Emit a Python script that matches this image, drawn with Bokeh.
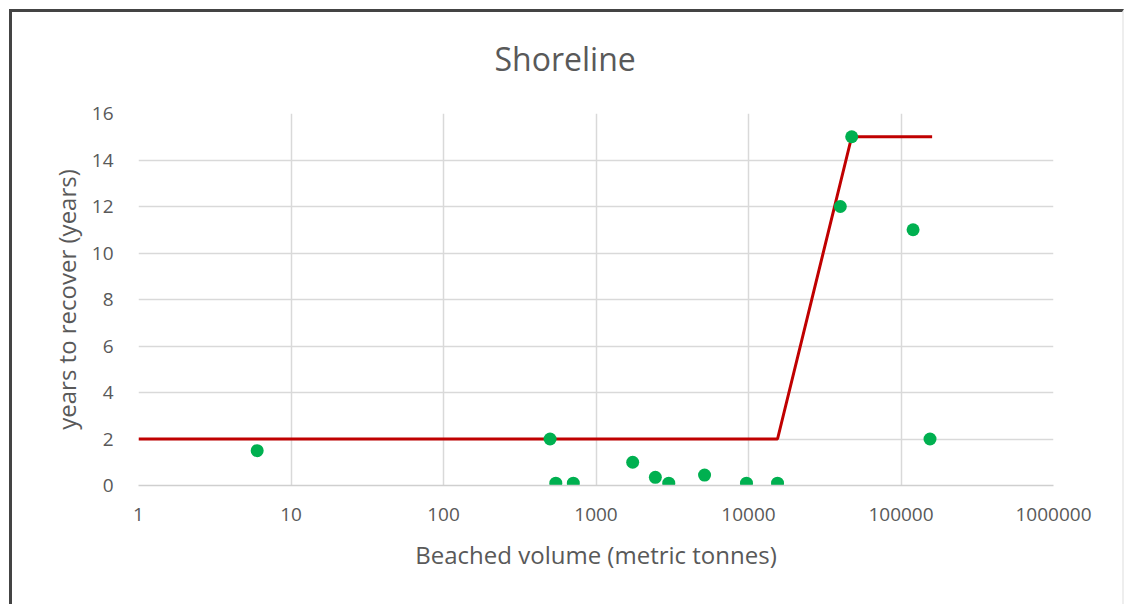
from bokeh.plotting import figure
from bokeh.models import (ColumnDataSource, FixedTicker, SingleIntervalTicker,
                          NumeralTickFormatter, InlineStyleSheet)
from bokeh.embed import file_html
from bokeh.resources import INLINE

# ---- data ----
beached_volume = [6, 500, 545, 710, 1740, 2450, 3000, 5150, 9700, 15500,
                  40000, 47500, 120000, 155000]
years_to_recover = [1.5, 2, 0.1, 0.1, 1, 0.35, 0.1, 0.45, 0.1, 0.1,
                    12, 15, 11, 2]

trend_volume = [1, 15500, 47500, 160000]
trend_years = [2, 2, 15, 15]

x_ticks = [1, 10, 100, 1000, 10000, 100000, 1000000]

title_text = "Shoreline"
x_label = "Beached volume (metric tonnes)"
y_label = "years to recover (years)"

FONT = "Open Sans"
TXT = "#595959"
GRID = "#D9D9D9"

p = figure(width=1128, height=604, x_axis_type="log",
           x_range=(1, 1000000), y_range=(0, 16),
           output_backend="svg", toolbar_location=None,
           min_border_left=138, min_border_right=75,
           min_border_top=113, min_border_bottom=119)
p.outline_line_color = None
p.background_fill_color = "white"
p.border_fill_color = "white"

pts = ColumnDataSource(dict(x=beached_volume, y=years_to_recover))
trend = ColumnDataSource(dict(x=trend_volume, y=trend_years))

p.line("x", "y", source=trend, line_color="#C00000", line_width=3)
p.scatter("x", "y", source=pts, size=13, fill_color="#00B050",
          line_color=None)

# title, placed so that it is centred over the whole chart area
p.title.text = title_text
p.title.align = "left"
p.title.offset = 356
p.title.text_font = FONT
p.title.text_font_size = "32px"
p.title.text_font_style = "normal"
p.title.text_color = TXT
p.title.standoff = 68

# axes
p.xaxis.ticker = FixedTicker(ticks=x_ticks, minor_ticks=[])
p.xaxis.formatter = NumeralTickFormatter(format="0")
p.yaxis.ticker = SingleIntervalTicker(interval=2, num_minor_ticks=0)

for ax in (p.xaxis, p.yaxis):
    ax.major_tick_line_color = None
    ax.minor_tick_line_color = None
    ax.major_label_text_font = FONT
    ax.major_label_text_font_size = "19px"
    ax.major_label_text_color = TXT
    ax.axis_label_text_font = FONT
    ax.axis_label_text_font_size = "24px"
    ax.axis_label_text_color = TXT
    ax.axis_label_text_font_style = "normal"

p.xaxis.axis_label = x_label
p.yaxis.axis_label = y_label
p.xaxis.axis_line_color = "#CFCFCF"
p.xaxis.axis_line_width = 1.5
p.yaxis.axis_line_color = None
p.xaxis.major_label_standoff = 16
p.xaxis.axis_label_standoff = 14
p.yaxis.major_label_standoff = 19
p.yaxis.axis_label_standoff = 6

p.xgrid.grid_line_color = GRID
p.ygrid.grid_line_color = GRID
p.xgrid.grid_line_width = 1.5
p.ygrid.grid_line_width = 1.5
p.xgrid.ticker = FixedTicker(ticks=x_ticks, minor_ticks=[])

# frame of the chart area (dark top and left edges, faint right edge), by CSS
p.stylesheets = [InlineStyleSheet(css="""
:host { position: relative; }
:host::after {
  content: ""; position: absolute; left: 9px; top: 9px; right: 4px; bottom: 0;
  border-left: 3px solid #444444; border-top: 3px solid #444444;
  border-right: 2px solid #EEEEEE;
  pointer-events: none; z-index: 10;
}
""")]

open("out.html", "w").write(file_html(p, INLINE))
